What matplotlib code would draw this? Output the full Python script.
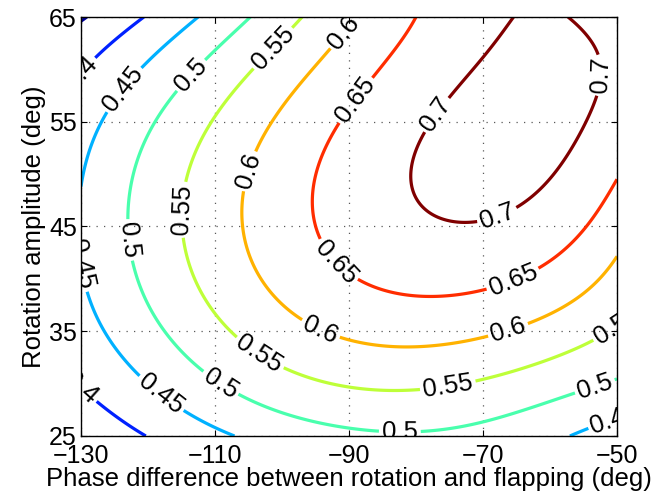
import numpy as np
import matplotlib
matplotlib.use("Agg")
import matplotlib.pyplot as plt
from matplotlib.colors import Normalize

# Phase difference (deg) grid columns and rotation amplitude (deg) grid rows
phase = [-130, -110, -90, -70, -50]
amplitude = [25, 35, 45, 55, 65]

# Values, one list per amplitude row
z_a25 = [0.360, 0.440, 0.490, 0.485, 0.422]
z_a35 = [0.431, 0.539, 0.608, 0.607, 0.545]
z_a45 = [0.453, 0.578, 0.668, 0.697, 0.620]
z_a55 = [0.430, 0.553, 0.656, 0.715, 0.680]
z_a65 = [0.345, 0.466, 0.594, 0.690, 0.675]

levels = [0.35, 0.40, 0.45, 0.50, 0.55, 0.60, 0.65, 0.70]

x_ticks = [-130, -110, -90, -70, -50]
y_ticks = [25, 35, 45, 55, 65]

x_label = "Phase difference between rotation and flapping (deg)"
y_label = "Rotation amplitude (deg)"

plt.rcParams['font.family'] = ['Liberation Sans', 'DejaVu Sans']
FS = 18.5
TFS = 18


def lagrange_weights(xn, xq):
    """Polynomial (Lagrange) interpolation weights: value(xq) = W @ y(xn)."""
    xn = np.asarray(xn, float)
    xq = np.asarray(xq, float)
    W = np.ones((len(xq), len(xn)))
    for j in range(len(xn)):
        for m in range(len(xn)):
            if m != j:
                W[:, j] *= (xq - xn[m]) / (xn[j] - xn[m])
    return W


Z = np.array([z_a25, z_a35, z_a45, z_a55, z_a65])
xf = np.linspace(phase[0], phase[-1], 401)
yf = np.linspace(amplitude[0], amplitude[-1], 401)
Zf = lagrange_weights(amplitude, yf) @ Z @ lagrange_weights(phase, xf).T

fig = plt.figure(figsize=(6.61, 4.99), dpi=100)
ax = fig.add_axes([0.1225, 0.1263, 0.8109, 0.8396])

cs = ax.contour(xf, yf, Zf, levels=levels, cmap='jet',
                norm=Normalize(vmin=0.343, vmax=0.70), linewidths=2.3)

label_pos = [
    (-129.5, 58.5), (-129.5, 30.5),
    (-122.7, 57.6), (-130.0, 43.5), (-118.2, 28.9), (-51.0, 28.0),
    (-113.7, 59.5), (-123.0, 43.7), (-109.3, 29.9), (-82.4, 26.0), (-53.6, 30.3),
    (-101.8, 62.3), (-114.8, 46.6), (-102.5, 33.7), (-75.2, 29.6), (-50.5, 36.0),
    (-91.3, 63.8), (-105.5, 50.4), (-94.3, 35.1), (-66.0, 34.6),
    (-89.1, 57.1), (-91.3, 42.0), (-65.2, 39.4),
    (-77.9, 56.1), (-68.2, 46.6), (-54.0, 59.5),
]
texts = ax.clabel(cs, levels=levels, manual=label_pos, inline=True,
                  inline_spacing=3, fontsize=FS, colors='k', fmt='%g')
for t in texts:
    t.set_clip_on(True)
    t.set_clip_path(ax.patch)

ax.set_xlim(-130, -50)
ax.set_ylim(25, 65)
ax.set_xticks(x_ticks)
ax.set_yticks(y_ticks)
ax.set_xticklabels(['\u2212' + str(abs(v)) for v in x_ticks])
ax.grid(True, color='0.35', linestyle=(0, (1, 5)), linewidth=0.9)
ax.tick_params(direction='in', length=4, width=0.8, labelsize=TFS,
               top=True, right=True)
ax.tick_params(axis='x', pad=6)
ax.tick_params(axis='y', pad=3)
for s in ax.spines.values():
    s.set_linewidth(1.0)
ax.set_xlabel(x_label, fontsize=FS, labelpad=-1)
ax.set_ylabel(y_label, fontsize=FS, labelpad=2)

fig.savefig("out.png", dpi=100)
